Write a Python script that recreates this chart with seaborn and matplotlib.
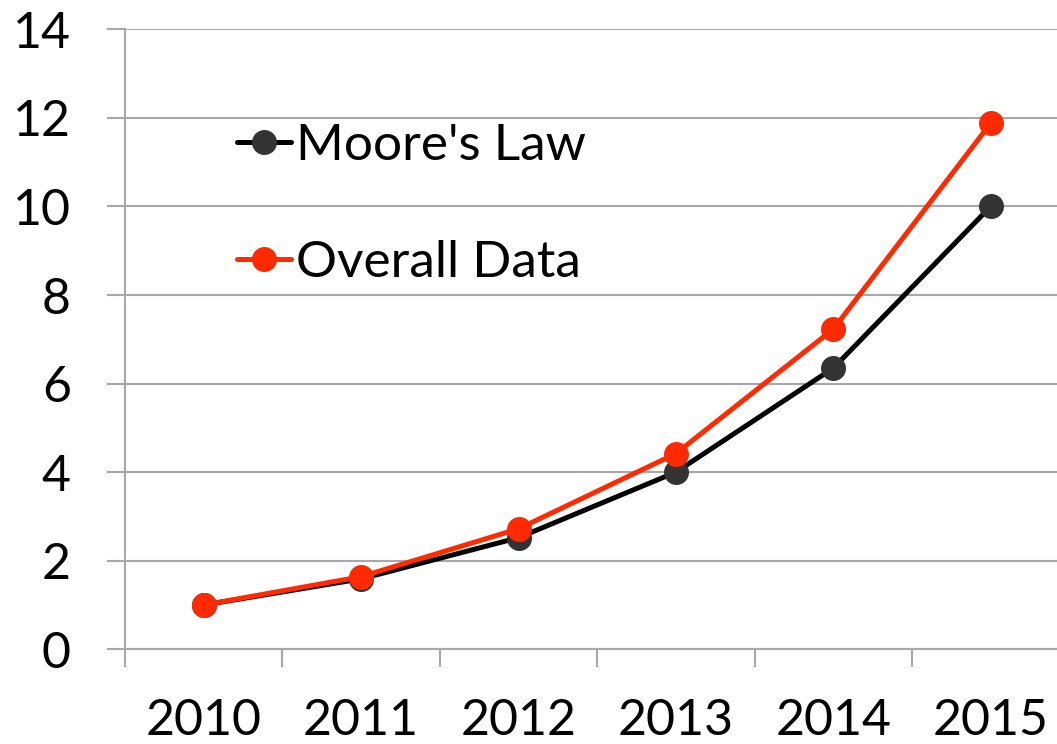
import pandas as pd
import matplotlib.pyplot as plt
import seaborn as sns

years = ["2010", "2011", "2012", "2013", "2014", "2015"]
moores_law = [1.0, 1.59, 2.52, 4.0, 6.35, 10.0]
overall_data = [1.0, 1.64, 2.72, 4.42, 7.23, 11.88]

series_names = ["Moore's Law", "Overall Data"]
line_colors = {"Moore's Law": "#000000", "Overall Data": "#ff2a00"}
marker_colors = {"Moore's Law": "#333333", "Overall Data": "#ff2a00"}


def build_frame():
    df = pd.DataFrame({
        "Year": years * 2,
        "Value": moores_law + overall_data,
        "Series": [series_names[0]] * len(years) + [series_names[1]] * len(years),
    })
    return df


def plot_chart(df):
    sns.set_style("white")
    plt.rcParams["font.family"] = ["Lato", "DejaVu Sans"]
    plt.rcParams["text.color"] = "black"
    plt.rcParams["xtick.labelcolor"] = "black"
    plt.rcParams["ytick.labelcolor"] = "black"

    fig = plt.figure(figsize=(10.57, 7.44), dpi=100)
    ax = fig.add_axes([125 / 1057, 0.1273, 944.4 / 1057, 0.8333])

    sns.lineplot(data=df, x="Year", y="Value", hue="Series", palette=line_colors,
                 marker="o", markersize=18, linewidth=3.6, markeredgewidth=0,
                 ax=ax, legend=False, zorder=3)

    for line, name in zip(ax.get_lines(), series_names):
        line.set_markerfacecolor(marker_colors[name])
        line.set_label(name)

    ax.set_xlim(-0.5, 5.5)
    ax.set_ylim(0, 14)
    ax.set_yticks(range(0, 15, 2))
    ax.set_xticks(range(len(years)))
    ax.set_xticklabels(years)
    ax.set_xticks([i - 0.5 for i in range(len(years) + 1)], minor=True)

    grid_color = "#a8a8a8"
    ax.grid(axis="y", color=grid_color, linewidth=1.5, zorder=0)
    ax.set_axisbelow(True)
    ax.tick_params(axis="y", which="major", length=13, width=1.5, color=grid_color,
                   pad=26, labelsize=36, direction="out", left=True, labelcolor="black")
    ax.tick_params(axis="x", which="major", length=0, pad=35, labelsize=36,
                   labelcolor="black")
    ax.tick_params(axis="x", which="minor", length=13, width=1.5, color=grid_color,
                   direction="out", bottom=True)

    for side in ["top", "right"]:
        ax.spines[side].set_visible(False)
    for side in ["left", "bottom"]:
        ax.spines[side].set_color(grid_color)
        ax.spines[side].set_linewidth(1.5)

    ax.set_xlabel("")
    ax.set_ylabel("")

    leg = ax.legend(loc="upper left", bbox_to_anchor=(0.119, 0.849), frameon=False,
                    fontsize=37, handlelength=1.05, handletextpad=0.1,
                    labelspacing=1.39, borderaxespad=0, borderpad=0)
    for text in leg.get_texts():
        text.set_color("black")

    fig.savefig("out.png", dpi=100)


def main():
    df = build_frame()
    plot_chart(df)


if __name__ == "__main__":
    main()
